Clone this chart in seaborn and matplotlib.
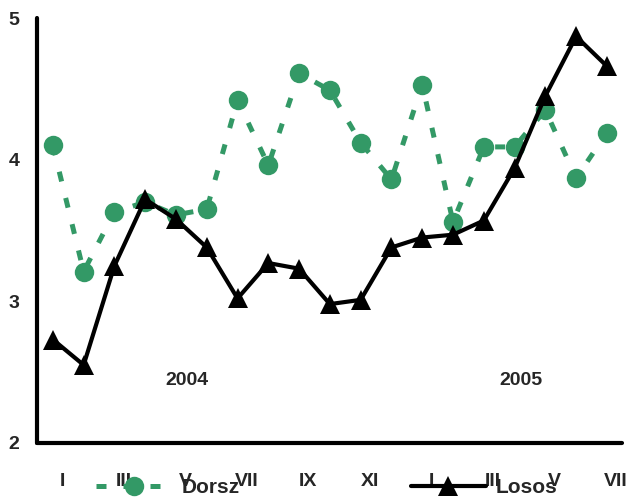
import matplotlib
matplotlib.use("Agg")
import matplotlib.pyplot as plt
import seaborn as sns
import pandas as pd
import numpy as np

months = ["I", "II", "III", "IV", "V", "VI", "VII", "VIII", "IX", "X", "XI", "XII",
          "I", "II", "III", "IV", "V", "VI", "VII"]
dorsz = [4.10, 3.21, 3.63, 3.70, 3.61, 3.65, 4.42, 3.96, 4.61, 4.49, 4.12, 3.86,
         4.53, 3.56, 4.09, 4.09, 4.35, 3.87, 4.19]
losos = [2.73, 2.55, 3.25, 3.72, 3.58, 3.38, 3.02, 3.27, 3.23, 2.98, 3.01, 3.38,
         3.45, 3.47, 3.57, 3.94, 4.45, 4.87, 4.66]
year_labels = ["2004", "2005"]

sns.set_theme(style="white")
plt.rcParams["font.family"] = ["Liberation Sans", "DejaVu Sans"]
plt.rcParams["font.weight"] = "bold"

green = "#339966"
idx = np.arange(len(months))
df = pd.DataFrame({"idx": idx, "Dorsz": dorsz, "Losos": losos})

fig = plt.figure(figsize=(6.35, 5.01), dpi=100)
ax = fig.add_axes([0.059, 0.116, 0.921, 0.848])

sns.lineplot(data=df, x="idx", y="Dorsz", ax=ax, color=green, lw=3.6,
             linestyle=(0, (2.0, 3.4)), marker="o", markersize=14,
             markeredgewidth=0, markerfacecolor=green, label="Dorsz",
             dash_capstyle="butt")
sns.lineplot(data=df, x="idx", y="Losos", ax=ax, color="black", lw=3,
             marker="^", markersize=14, markeredgewidth=0,
             markerfacecolor="black", label="Losos")

ax.set_xlim(-0.5, len(months) - 0.5)
ax.set_ylim(2, 5)
ax.set_yticks([2, 3, 4, 5])
ax.set_yticklabels(["2", "3", "4", "5"], fontsize=14, fontweight="bold")

# tick marks at category boundaries, labels every other month
ax.set_xticks(np.arange(-0.5, len(months) - 1, 2))
ax.set_xticklabels([])
ax.set_xticks(idx[::2] + 0.3, minor=True)
ax.set_xticklabels(months[::2], minor=True, fontsize=14, fontweight="bold")
ax.tick_params(axis="x", which="minor", length=0, pad=22)
ax.tick_params(axis="x", which="major", length=7, width=3, direction="out", color="black")
ax.tick_params(axis="y", length=7, width=3, direction="out", color="black", pad=6)
ax.set_xlabel("")
ax.set_ylabel("")

for s in ["top", "right"]:
    ax.spines[s].set_visible(False)
for s in ["left", "bottom"]:
    ax.spines[s].set_linewidth(3)
    ax.spines[s].set_color("black")
    ax.spines[s].set_capstyle("round")

ax.text(4.35, 2.44, year_labels[0], ha="center", va="center", fontsize=14, fontweight="bold")
ax.text(15.2, 2.44, year_labels[1], ha="center", va="center", fontsize=14, fontweight="bold")

ax.legend(loc="center", bbox_to_anchor=(0.515, 0.027), bbox_transform=fig.transFigure,
          ncol=2, frameon=False, handlelength=3.6, handletextpad=0.5,
          columnspacing=8.2, prop={"size": 15, "weight": "bold"})

fig.savefig("out.png", dpi=100)
